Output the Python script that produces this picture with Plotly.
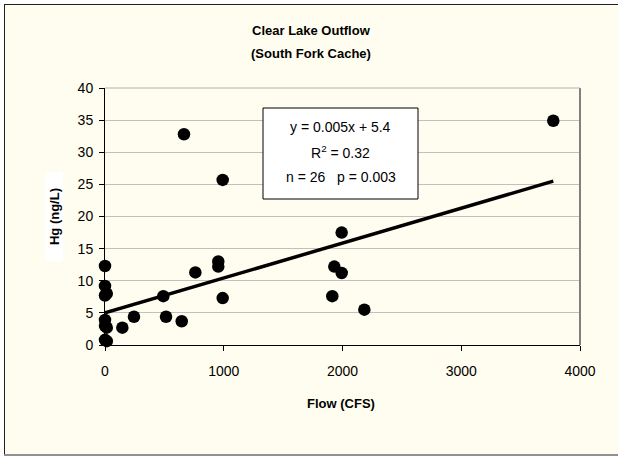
import plotly.graph_objects as go

# ---- data ----
flow_cfs = [0, 0, 15, 0, 0, 0, 15, 0, 15,
            146, 244, 491, 514, 646, 665, 761, 954, 954, 991, 991,
            1914, 1931, 1993, 1993, 2184, 3775]
hg_ngl = [12.3, 9.2, 8.0, 7.7, 3.9, 3.0, 2.7, 0.8, 0.6,
          2.7, 4.4, 7.6, 4.4, 3.7, 32.8, 11.3, 13.0, 12.2, 25.7, 7.3,
          7.6, 12.2, 17.5, 11.2, 5.5, 34.9]

# trend line as drawn in the reference (intercept, slope)
trend_intercept = 5.0
trend_slope = 0.00543

x_ticks = [0, 1000, 2000, 3000, 4000]
y_ticks = [0, 5, 10, 15, 20, 25, 30, 35, 40]

title_lines = ["Clear Lake Outflow", "(South Fork Cache)"]
x_title = "Flow (CFS)"
y_title = "Hg (ng/L)"
stat_lines = ["y = 0.005x + 5.4", "R<sup>2</sup> = 0.32", "n = 26   p = 0.003"]

trend_x = [min(flow_cfs), max(flow_cfs)]
trend_y = [trend_intercept + trend_slope * v for v in trend_x]

W, H = 618, 457
L, R, T, B = 105, 38, 88, 112
pw, ph = W - L - R, H - T - B


def px(xp):
    return (xp - L) / pw


def py(yp):
    return (H - B - yp) / ph


CREAM = "#FFFDEF"
FONT = "Liberation Sans, Arial, sans-serif"
NB = "\u00a0"

fig = go.Figure()
fig.add_trace(go.Scatter(x=trend_x, y=trend_y, mode="lines",
                         line=dict(color="black", width=3.5),
                         hoverinfo="skip", cliponaxis=False))
fig.add_trace(go.Scatter(x=flow_cfs, y=hg_ngl, mode="markers",
                         marker=dict(color="black", size=12.5),
                         cliponaxis=False))

shapes = [
    dict(type="rect", xref="paper", yref="paper",
         x0=px(4), x1=px(640), y0=py(455), y1=py(4),
         fillcolor=CREAM, line=dict(width=0), layer="below"),
    dict(type="line", xref="paper", yref="paper",
         x0=px(4.5), x1=px(4.5), y0=py(455), y1=py(4),
         line=dict(color="#202020", width=1), layer="below"),
    dict(type="line", xref="paper", yref="paper",
         x0=px(4), x1=px(640), y0=py(4.5), y1=py(4.5),
         line=dict(color="#202020", width=1), layer="below"),
    dict(type="line", xref="paper", yref="paper",
         x0=px(4), x1=px(640), y0=py(455), y1=py(455),
         line=dict(color="#909090", width=2), layer="below"),
    dict(type="line", xref="paper", yref="paper",
         x0=1, x1=1, y0=0, y1=1, line=dict(color="#808080", width=2)),
    dict(type="line", xref="paper", yref="paper",
         x0=0, x1=1, y0=1, y1=1, line=dict(color="#b0b0b0", width=1)),
    dict(type="rect", xref="paper", yref="paper",
         x0=px(263), x1=px(418), y0=py(199), y1=py(108),
         fillcolor="white", line=dict(color="black", width=1)),
]

annotations = [
    dict(text="<b>" + title_lines[0] + "</b>", x=px(311), y=py(31)),
    dict(text="<b>" + title_lines[1] + "</b>", x=px(311), y=py(53)),
    dict(text="<b>" + x_title + "</b>", x=px(341), y=py(403)),
    dict(text=NB * 4 + "<b>" + y_title + "</b>" + NB * 4, x=px(54), y=py(216.5),
         textangle=-90, bgcolor="white", font=dict(size=13)),
    dict(text=stat_lines[0], x=px(340.5), y=py(127), font=dict(size=14)),
    dict(text=stat_lines[1], x=px(340.5), y=py(152), font=dict(size=14)),
    dict(text=stat_lines[2], x=px(340.5), y=py(177), font=dict(size=14)),
]
for a in annotations:
    a.update(xref="paper", yref="paper", showarrow=False,
             xanchor="center", yanchor="middle")
    f = dict(family=FONT, size=13, color="black")
    f.update(a.get("font", {}))
    a["font"] = f

fig.update_layout(
    width=W, height=H,
    margin=dict(l=L, r=R, t=T, b=B, pad=0),
    paper_bgcolor="white", plot_bgcolor=CREAM,
    showlegend=False,
    font=dict(family=FONT, size=14, color="black"),
    shapes=shapes, annotations=annotations,
)
fig.update_xaxes(range=[0, 4000], tickvals=x_ticks, ticks="outside",
                 ticklen=5, tickcolor="black", showline=True,
                 linecolor="black", linewidth=1, showgrid=False,
                 zeroline=False, ticklabelstandoff=8,
                 tickfont=dict(size=14))
fig.update_yaxes(range=[0, 40], tickvals=y_ticks, ticks="outside",
                 ticklen=5, tickcolor="black", showline=True,
                 linecolor="black", linewidth=1, showgrid=True,
                 gridcolor="#c0c0c0", gridwidth=1, zeroline=False,
                 tickfont=dict(size=14), ticklabelstandoff=3)

fig.write_html("out.html", config={"displayModeBar": False},
               post_script="document.body.style.margin='0';")
